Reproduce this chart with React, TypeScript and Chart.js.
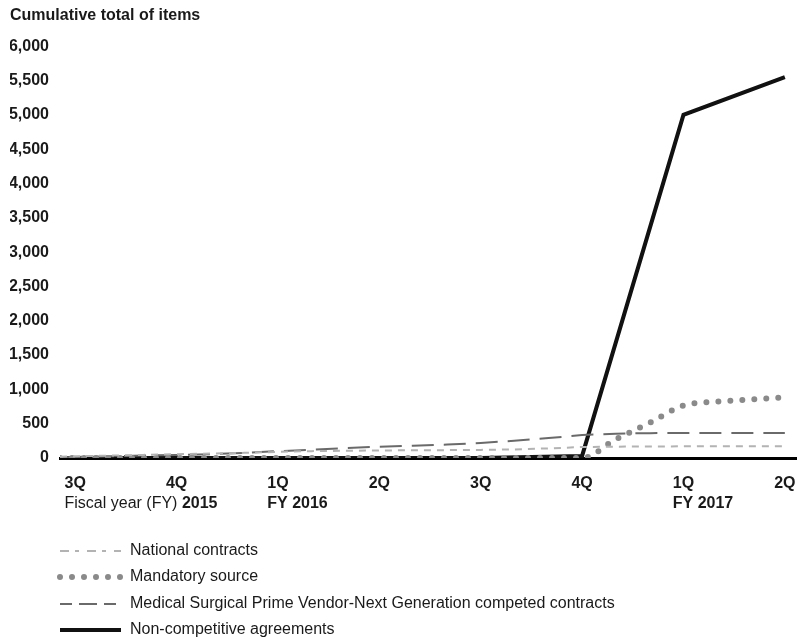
import React, { useEffect, useRef } from 'react';
import { Chart, registerables } from 'chart.js';

Chart.register(...registerables);

// ---- data ----
const QUARTER_LABELS = ['3Q', '4Q', '1Q', '2Q', '3Q', '4Q', '1Q', '2Q'];
const QUARTER_POS = [0, 1, 2, 3, 4, 5, 6, 7];
const FY_LABELS = [
  { tick: 0, regular: 'Fiscal year (FY) ', bold: '2015' },
  { tick: 2, regular: '', bold: 'FY 2016' },
  { tick: 6, regular: '', bold: 'FY 2017' },
];

// monthly positions, in quarters from 3Q FY2015
const MONTH_X = [-0.15, 0, 0.33, 0.67, 1, 1.33, 1.67, 2, 2.33, 2.67, 3, 3.33, 3.67, 4, 4.33, 4.67, 5, 5.33, 5.67, 6, 6.33, 6.67, 7];
const NATIONAL = [20, 25, 35, 45, 55, 65, 75, 90, 100, 105, 110, 112, 115, 118, 125, 140, 160, 165, 168, 170, 170, 170, 172];
const MANDATORY = [0, 0, 0, 0, 0, 0, 0, 0, 0, 0, 0, 0, 0, 0, 0, 0, 0, 270, 515, 765, 820, 855, 885];
const MSPV = [10, 15, 25, 35, 45, 55, 75, 100, 120, 145, 165, 180, 195, 220, 250, 290, 335, 355, 362, 365, 365, 365, 365];

const NONCOMP_X = [-0.15, 0, 1, 2, 3, 4, 5, 6, 7];
const NONCOMP = [0, 0, 0, 0, 0, 0, 30, 5000, 5550];

const SERIES_NAMES = [
  'National contracts',
  'Mandatory source',
  'Medical Surgical Prime Vendor-Next Generation competed contracts',
  'Non-competitive agreements',
];

const Y_MAX = 6000;
const Y_STEP = 500;

const FONT = "'Liberation Sans', Arial, Helvetica, sans-serif";
const TEXT = '#1a1a1a';

const pts = (xs: number[], ys: number[]) => xs.map((x, i) => ({ x, y: ys[i] }));

const fyRowPlugin = {
  id: 'fyRow',
  afterDraw(chart: any) {
    const { ctx, chartArea } = chart;
    const xs = chart.scales.x;
    const y = chartArea.bottom + 46;
    ctx.save();
    ctx.textBaseline = 'middle';
    ctx.textAlign = 'left';
    ctx.fillStyle = TEXT;
    FY_LABELS.forEach((f) => {
      ctx.font = `bold 16px ${FONT}`;
      const qw = ctx.measureText(QUARTER_LABELS[f.tick]).width;
      let x = xs.getPixelForValue(QUARTER_POS[f.tick]) - qw / 2;
      if (f.regular) {
        ctx.font = `16px ${FONT}`;
        ctx.fillText(f.regular, x, y);
        x += ctx.measureText(f.regular).width;
      }
      ctx.font = `bold 16px ${FONT}`;
      ctx.fillText(f.bold, x, y);
    });
    ctx.restore();
  },
};

const legendPlugin = {
  id: 'vertLegend',
  afterDraw(chart: any) {
    const { ctx, chartArea } = chart;
    const rows = [93, 119, 146, 172];
    ctx.save();
    chart.data.datasets.forEach((ds: any, i: number) => {
      const y = chartArea.bottom + rows[i];
      ctx.beginPath();
      ctx.strokeStyle = ds.borderColor;
      ctx.lineWidth = ds.borderWidth;
      ctx.lineCap = ds.borderCapStyle || 'butt';
      ctx.setLineDash(ds.legendDash || ds.borderDash || []);
      ctx.moveTo(60, y);
      ctx.lineTo(121, y);
      ctx.stroke();
      ctx.setLineDash([]);
      ctx.font = `16px ${FONT}`;
      ctx.fillStyle = TEXT;
      ctx.textBaseline = 'middle';
      ctx.textAlign = 'left';
      ctx.fillText(ds.label, 130, y);
    });
    ctx.restore();
  },
};

export default function App() {
  const ref = useRef<HTMLCanvasElement>(null);

  useEffect(() => {
    Chart.defaults.font.family = FONT;
    const chart = new Chart(ref.current as HTMLCanvasElement, {
      type: 'line',
      data: {
        datasets: [
          {
            label: SERIES_NAMES[0],
            data: pts(MONTH_X, NATIONAL),
            borderColor: '#b3b3b3',
            borderWidth: 2,
            borderDash: [7, 6],
            legendDash: [9, 6, 4, 8],
            pointRadius: 0,
            tension: 0,
          } as any,
          {
            label: SERIES_NAMES[1],
            data: pts(MONTH_X, MANDATORY),
            borderColor: '#8a8a8a',
            borderWidth: 6,
            borderDash: [0, 12],
            legendDash: [0, 12],
            borderCapStyle: 'round',
            pointRadius: 0,
            cubicInterpolationMode: 'monotone',
          } as any,
          {
            label: SERIES_NAMES[2],
            data: pts(MONTH_X, MSPV),
            borderColor: '#6a6a6a',
            borderWidth: 2,
            borderDash: [22, 10],
            legendDash: [12, 7, 18, 7],
            pointRadius: 0,
            tension: 0,
          } as any,
          {
            label: SERIES_NAMES[3],
            data: pts(NONCOMP_X, NONCOMP),
            borderColor: '#111111',
            borderWidth: 4,
            pointRadius: 0,
            tension: 0,
          } as any,
        ],
      },
      options: {
        animation: false,
        responsive: true,
        maintainAspectRatio: false,
        layout: { padding: { left: 10, right: 0, top: 0, bottom: 145 } },
        plugins: {
          legend: { display: false },
          tooltip: { enabled: false },
          title: {
            display: true,
            text: 'Cumulative total of items',
            align: 'start',
            color: TEXT,
            font: { family: FONT, size: 16, weight: 'bold' },
            padding: { top: 6, bottom: 21 },
          },
        },
        scales: {
          x: {
            type: 'linear',
            min: -0.15,
            max: 7.12,
            grid: { display: false, drawTicks: false },
            border: { display: true, color: '#000000', width: 3 },
            afterBuildTicks: (scale: any) => {
              scale.ticks = QUARTER_POS.map((v) => ({ value: v }));
            },
            afterFit: (scale: any) => {
              scale.height = 36;
              scale.paddingLeft = 0;
              scale.paddingRight = 0;
            },
            ticks: {
              autoSkip: false,
              maxRotation: 0,
              padding: 16,
              color: TEXT,
              font: { family: FONT, size: 16, weight: 'bold' },
              callback: (_v: any, i: number) => QUARTER_LABELS[i],
            },
          },
          y: {
            min: 0,
            max: Y_MAX,
            grid: { display: false, drawTicks: false },
            border: { display: false },
            afterFit: (scale: any) => {
              scale.width = 50;
            },
            ticks: {
              stepSize: Y_STEP,
              padding: 11,
              color: TEXT,
              font: { family: FONT, size: 16, weight: 'bold' },
              callback: (v: any) => Number(v).toLocaleString('en-US'),
            },
          },
        },
      },
      plugins: [fyRowPlugin, legendPlugin],
    });
    return () => chart.destroy();
  }, []);

  return (
    <div style={{ position: 'fixed', left: 0, top: 0, width: 797, height: 639, background: '#fff' }}>
      <canvas ref={ref} />
    </div>
  );
}
